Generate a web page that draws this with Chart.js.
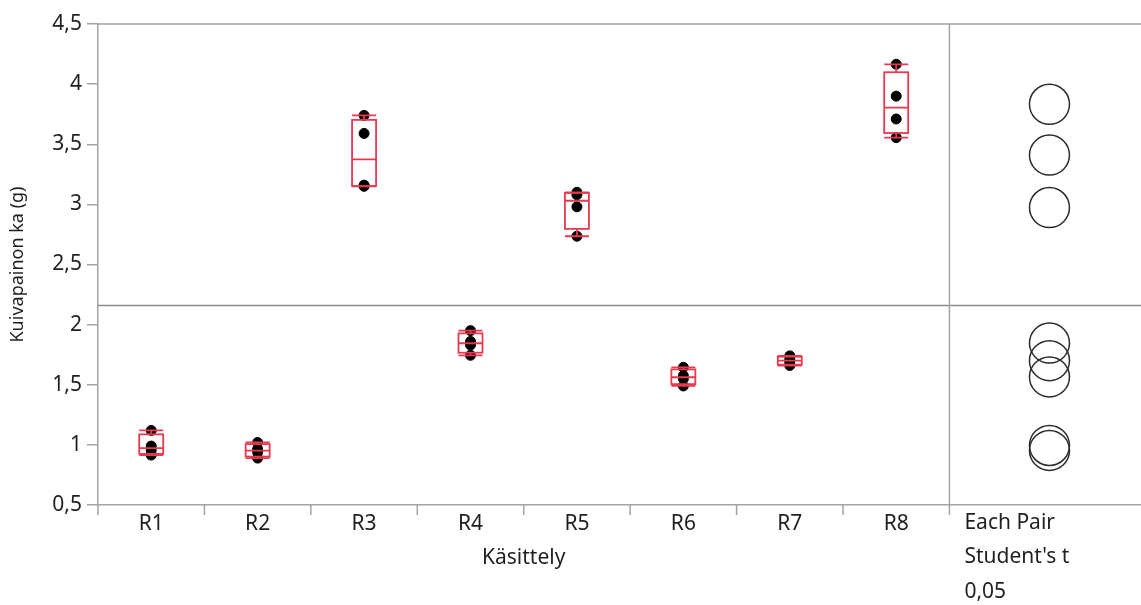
<!DOCTYPE html>
<html lang="fi">
<head>
<meta charset="utf-8">
<title>Kuivapainon ka (g) by Käsittely</title>
<script src="https://cdn.jsdelivr.net/npm/chart.js@4.4.1/dist/chart.umd.min.js"></script>
<style>
  html, body { margin: 0; padding: 0; background: #fff; overflow: hidden; }
  #wrap { width: 1141px; height: 605px; }
</style>
</head>
<body>
<div id="wrap"><canvas id="oneway"></canvas></div>
<script>
// Käsittelyt (x-akseli)
const kasittely = ['R1', 'R2', 'R3', 'R4', 'R5', 'R6', 'R7', 'R8'];

// Kuivapainot (g), 4 toistoa per käsittely (luettu kuvasta)
const r1 = [0.915, 0.955, 0.99, 1.12];
const r2 = [0.89, 0.94, 0.965, 1.02];
const r3 = [3.15, 3.16, 3.59, 3.74];
const r4 = [1.745, 1.83, 1.86, 1.95];
const r5 = [2.735, 2.98, 3.08, 3.10];
const r6 = [1.49, 1.55, 1.575, 1.645];
const r7 = [1.66, 1.688, 1.712, 1.74];
const r8 = [3.555, 3.71, 3.90, 4.165];
const kuivapaino = [r1, r2, r3, r4, r5, r6, r7, r8];

// y-akselin jaotus
const yTicks = [0.5, 1, 1.5, 2, 2.5, 3, 3.5, 4, 4.5];

// Vertailuympyröiden selite
const vertailuTeksti = ['Each Pair', "Student's t", '0,05'];

// Ulkoasu
const FONT = '"Noto Sans", "Open Sans", sans-serif';
const FONT_SIZE = 21;
const TEXT = '#1f1f1f';
const AXIS = '#a3a3a3';
const BOX_RED = '#e8394f';
const X_MAX = 9.8;        // oikea paneeli vertailuympyröille
const CIRCLE_X = 8.94;

// JMP-tyylinen kvantiili, p(n+1)
function quantile(sorted, p) {
  const pos = p * (sorted.length + 1);
  const lo = Math.floor(pos);
  if (lo < 1) return sorted[0];
  if (lo >= sorted.length) return sorted[sorted.length - 1];
  return sorted[lo - 1] + (pos - lo) * (sorted[lo] - sorted[lo - 1]);
}
const mean = a => a.reduce((s, v) => s + v, 0) / a.length;

const boxStats = kuivapaino.map(vals => {
  const s = [...vals].sort((a, b) => a - b);
  return {
    min: s[0],
    q1: quantile(s, 0.25),
    med: quantile(s, 0.5),
    q3: quantile(s, 0.75),
    max: s[s.length - 1]
  };
});
const ryhmaKa = kuivapaino.map(mean);
const kokonaisKa = mean(kuivapaino.flat());

// Pisteet kategorian keskelle
const pisteet = [];
kuivapaino.forEach((vals, i) => vals.forEach(v => pisteet.push({ x: i + 0.5, y: v })));

// Laatikot, kehys ja tekstit
const jmpDecor = {
  id: 'jmpDecor',
  afterDatasetsDraw(chart) {
    const { ctx, chartArea: a, scales: { x, y } } = chart;
    ctx.save();

    // laatikkokuviot
    ctx.strokeStyle = BOX_RED;
    ctx.lineWidth = 1.8;
    const hw = 12;
    boxStats.forEach((s, i) => {
      const cx = x.getPixelForValue(i + 0.5);
      const yMin = y.getPixelForValue(s.min);
      const yQ1 = y.getPixelForValue(s.q1);
      const yMed = y.getPixelForValue(s.med);
      const yQ3 = y.getPixelForValue(s.q3);
      const yMax = y.getPixelForValue(s.max);
      ctx.strokeRect(cx - hw, yQ3, hw * 2, yQ1 - yQ3);
      ctx.beginPath();
      ctx.moveTo(cx - hw, yMed); ctx.lineTo(cx + hw, yMed);
      ctx.moveTo(cx, yQ3); ctx.lineTo(cx, yMax);
      ctx.moveTo(cx, yQ1); ctx.lineTo(cx, yMin);
      ctx.moveTo(cx - hw, yMax); ctx.lineTo(cx + hw, yMax);
      ctx.moveTo(cx - hw, yMin); ctx.lineTo(cx + hw, yMin);
      ctx.stroke();
    });

    // kehys: yläreuna, erotin ja x-akselin jakoviivat
    ctx.strokeStyle = AXIS;
    ctx.lineWidth = 1.5;
    const sepX = x.getPixelForValue(kasittely.length);
    ctx.beginPath();
    ctx.moveTo(a.left, a.top); ctx.lineTo(a.right, a.top);
    ctx.moveTo(sepX, a.top); ctx.lineTo(sepX, a.bottom + 10);
    for (let k = 0; k < kasittely.length; k++) {
      const px = x.getPixelForValue(k);
      ctx.moveTo(px, a.bottom); ctx.lineTo(px, a.bottom + 10);
    }
    ctx.stroke();

    // x-akselin otsikko ja vertailuselite
    ctx.fillStyle = TEXT;
    ctx.font = FONT_SIZE + 'px ' + FONT;
    ctx.textBaseline = 'middle';
    ctx.textAlign = 'center';
    ctx.fillText('Käsittely', (x.getPixelForValue(0) + sepX) / 2, 558);
    ctx.textAlign = 'left';
    vertailuTeksti.forEach((t, i) => ctx.fillText(t, sepX + 15, 523 + i * 34.5));
    ctx.restore();
  }
};

new Chart(document.getElementById('oneway'), {
  type: 'scatter',
  data: {
    datasets: [
      {
        label: 'Kuivapaino',
        data: pisteet,
        backgroundColor: '#000',
        borderColor: '#000',
        pointRadius: 5,
        order: 0
      },
      {
        label: 'Vertailuympyrät',
        data: ryhmaKa.map(m => ({ x: CIRCLE_X, y: m })),
        backgroundColor: 'rgba(0,0,0,0)',
        borderColor: '#2b2b2b',
        borderWidth: 1.5,
        pointRadius: 20,
        order: 1
      },
      {
        type: 'line',
        label: 'Kokonaiskeskiarvo',
        data: [{ x: 0, y: kokonaisKa }, { x: X_MAX, y: kokonaisKa }],
        borderColor: '#8c8c8c',
        borderWidth: 1.5,
        pointRadius: 0,
        order: 2
      }
    ]
  },
  options: {
    responsive: true,
    maintainAspectRatio: false,
    animation: false,
    layout: { autoPadding: false, padding: { top: 24, right: 0, left: 0, bottom: 0 } },
    plugins: { legend: { display: false }, tooltip: { enabled: false } },
    scales: {
      x: {
        type: 'linear',
        min: 0,
        max: X_MAX,
        afterBuildTicks: scale => {
          scale.ticks = kasittely.map((_, i) => ({ value: i + 0.5 }));
        },
        afterFit: scale => { scale.height = 100; },
        ticks: {
          autoSkip: false,
          maxRotation: 0,
          padding: 0,
          color: TEXT,
          font: { family: FONT, size: FONT_SIZE },
          callback: (v, i) => kasittely[i]
        },
        grid: { drawOnChartArea: false, color: 'rgba(0,0,0,0)', tickLength: 6 },
        border: { color: AXIS, width: 1.5 }
      },
      y: {
        min: 0.5,
        max: 4.5,
        afterBuildTicks: scale => {
          scale.ticks = yTicks.map(v => ({ value: v }));
        },
        afterFit: scale => { scale.width = 98; },
        ticks: {
          padding: 5,
          color: TEXT,
          font: { family: FONT, size: FONT_SIZE },
          callback: v => String(v).replace('.', ',')
        },
        grid: { drawOnChartArea: false, color: AXIS, tickLength: 11, lineWidth: 1.5 },
        border: { color: AXIS, width: 1.5 },
        title: {
          display: true,
          text: 'Kuivapainon ka (g)',
          color: TEXT,
          font: { family: FONT, size: 18 },
          padding: { top: 7, bottom: 0 }
        }
      }
    }
  },
  plugins: [jmpDecor]
});
</script>
</body>
</html>
